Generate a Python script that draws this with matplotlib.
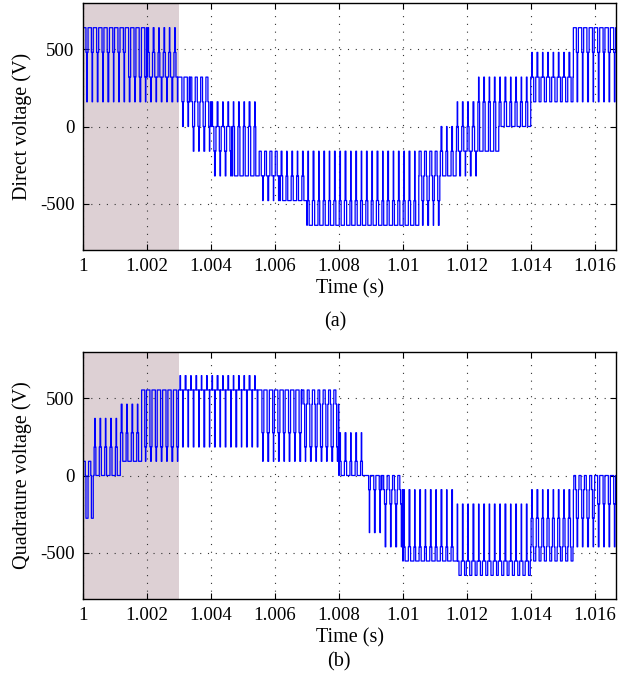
import numpy as np
import matplotlib
matplotlib.use('Agg')
import matplotlib.pyplot as plt

# ---------------- data ----------------
T_SW = 1 / 6000          # switching period (s)
T_START = 1.0
T_END = 1.0 + 1 / 60
SHADE_END = 1.003

# Panel (a): direct voltage, segments (start in ms after 1 s) and levels (V)
d_start_ms = [0.0, 1.3, 1.9, 2.9, 3.2, 3.9, 4.6, 5.4, 6.1, 6.9, 10.4, 11.1, 11.6, 12.2, 13.0, 14.0, 15.2]
d_base     = [640, 640, 320, 320, 160, 0, -320, -320, -480, -640, -320, -320, -160, -160, 0, 320, 640]
d_hi_mid   = [640, 640, 480, 320, 320, 0, 0, -160, -320, -480, -160, -160, 0, 160, 160, 320, 640]
d_hi       = [640, 640, 640, 320, 320, 160, 160, -160, -160, -160, -160, 0, 160, 320, 320, 480, 640]
d_lo_mid   = [480, 320, 320, 160, 0, -160, -320, -320, -480, -640, -480, -320, -160, -160, 0, 160, 480]
d_lo       = [160, 160, 160, 0, -160, -320, -320, -480, -480, -640, -640, -320, -320, -160, 0, 160, 160]

# Panel (b): quadrature voltage
q_start_ms = [0.0, 0.17, 1.1, 1.7, 3.0, 5.4, 6.8, 7.9, 8.7, 9.3, 9.9, 11.6, 13.9, 15.2, 16.0]
q_base     = [0, 0, 92, 554, 554, 554, 462, 0, 0, -92, -554, -554, -462, -92, 0]
q_hi_mid   = [92, 185, 277, 554, 554, 554, 554, 92, 0, 0, -462, -554, -277, 0, 0]
q_hi       = [92, 370, 462, 554, 647, 554, 554, 277, 0, 0, -92, -185, -92, 0, 0]
q_lo_mid   = [-277, 0, 92, 185, 554, 277, 185, 0, -92, -185, -554, -647, -554, -277, -185]
q_lo       = [-277, 0, 92, 92, 185, 92, 92, 0, -370, -462, -554, -647, -554, -462, -462]

x_ticks = [1.0, 1.002, 1.004, 1.006, 1.008, 1.01, 1.012, 1.014, 1.016]
y_ticks = [-500, 0, 500]
x_label = 'Time (s)'
y_labels = ['Direct voltage (V)', 'Quadrature voltage (V)']
captions = ['(a)', '(b)']

# pulse shape (style)
SPIKE_W = 0.10
MID_W = 0.13
WIDTH_CYCLE = [1.0, 1.6, 0.7, 1.3, 0.9, 1.2]


def build(starts_ms, base, hi_mid, hi, lo_mid, lo):
    starts = T_START + np.array(starts_ms) / 1000.0
    ts, vs = [], []
    n = int(np.ceil((T_END - T_START) / T_SW))
    for k in range(n):
        t0 = T_START + k * T_SW
        i = np.searchsorted(starts, t0 + 1e-12, side='right') - 1
        b, hm, h, lm, l = base[i], hi_mid[i], hi[i], lo_mid[i], lo[i]
        f = WIDTH_CYCLE[k % len(WIDTH_CYCLE)]
        g = WIDTH_CYCLE[(k + 3) % len(WIDTH_CYCLE)]
        ws = SPIKE_W * f * T_SW
        wl = SPIKE_W * g * T_SW
        wm = MID_W * T_SW
        seq = [(0.0, b)]
        c = 0.25 * T_SW
        seq += [(c - ws / 2 - wm, hm), (c - ws / 2, h), (c + ws / 2, hm), (c + ws / 2 + wm, b)]
        c = 0.75 * T_SW
        seq += [(c - wl / 2 - wm, lm), (c - wl / 2, l), (c + wl / 2, lm), (c + wl / 2 + wm, b)]
        for dt, v in seq:
            ts.append(t0 + dt)
            vs.append(v)
    ts.append(T_END + T_SW)
    vs.append(vs[-1])
    return np.array(ts), np.array(vs)


series = [build(d_start_ms, d_base, d_hi_mid, d_hi, d_lo_mid, d_lo),
          build(q_start_ms, q_base, q_hi_mid, q_hi, q_lo_mid, q_lo)]

plt.rcParams['font.family'] = ['Liberation Serif', 'DejaVu Serif']

W, H = 618, 682
fig = plt.figure(figsize=(W / 100, H / 100), dpi=100)

ax_rects = [
    (83 / W, 1 - 250 / H, 533 / W, 247 / H),
    (83 / W, 1 - 599 / H, 533 / W, 247 / H),
]
caption_pos = [(335 / W, 1 - 322 / H), (339 / W, 1 - 662 / H)]

for idx, (rect, (t, v)) in enumerate(zip(ax_rects, series)):
    ax = fig.add_axes(rect)
    ax.axvspan(T_START, SHADE_END, color='#ddd0d4', zorder=0, lw=0)
    ax.plot(t, v, drawstyle='steps-post', color='#0000ff', lw=0.9, zorder=2)
    ax.set_xlim(T_START, T_END)
    ax.set_ylim(-800, 800)
    ax.set_xticks(x_ticks)
    ax.set_xticklabels([f'{x:g}' for x in x_ticks])
    ax.set_yticks(y_ticks)
    ax.set_yticklabels([f'{y:g}' for y in y_ticks])
    ax.grid(True, linestyle=(0, (1, 6)), color='#333333', lw=0.8, zorder=1)
    ax.tick_params(direction='in', length=4, width=0.8, top=True, right=True,
                   labelsize=13.6, pad=6)
    for s in ax.spines.values():
        s.set_linewidth(1.0)
        s.set_zorder(3)
    ax.set_xlabel(x_label, fontsize=14.5, labelpad=3)
    ax.set_ylabel(y_labels[idx], fontsize=14.5, labelpad=6)
    fig.text(caption_pos[idx][0], caption_pos[idx][1], captions[idx],
             fontsize=14.5, ha='center', va='center')

fig.savefig('out.png', dpi=100)
